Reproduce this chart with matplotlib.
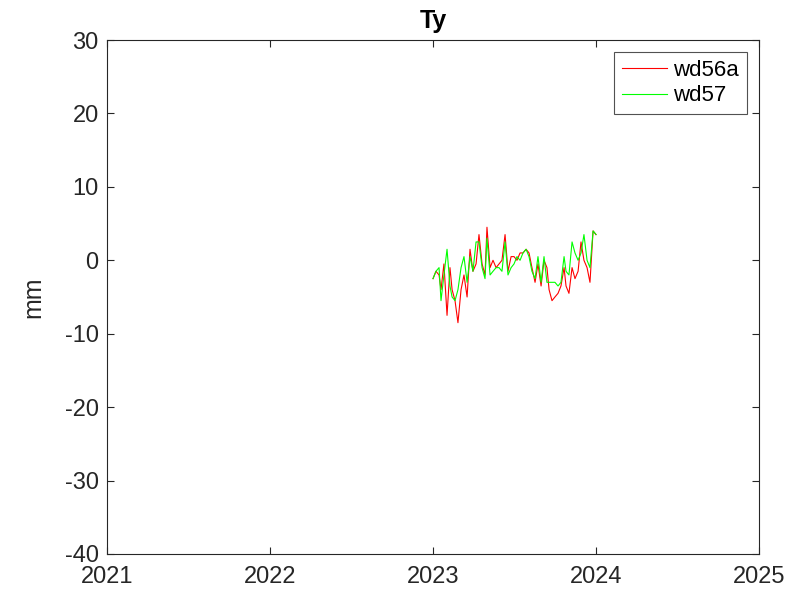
import matplotlib
matplotlib.use("Agg")
import matplotlib.pyplot as plt
import numpy as np

plt.rcParams['font.family'] = ['Liberation Sans', 'DejaVu Sans']

# decimal-year epochs
t = [2023.000, 2023.018, 2023.037, 2023.049, 2023.067, 2023.086, 2023.104, 2023.117,
     2023.135, 2023.153, 2023.172, 2023.190, 2023.209, 2023.227, 2023.245, 2023.264,
     2023.282, 2023.301, 2023.319, 2023.331, 2023.350, 2023.368, 2023.387, 2023.405,
     2023.423, 2023.442, 2023.460, 2023.479, 2023.497, 2023.515, 2023.534, 2023.552,
     2023.571, 2023.589, 2023.607, 2023.626, 2023.644, 2023.663, 2023.681, 2023.699,
     2023.712, 2023.730, 2023.748, 2023.767, 2023.785, 2023.804, 2023.816, 2023.834,
     2023.853, 2023.871, 2023.890, 2023.908, 2023.926, 2023.945, 2023.963, 2023.982]

wd56a = [-2.5, -1.5, -2.0, -4.0, -0.5, -7.5, -1.0, -4.0, -5.5, -8.5, -4.0, -2.0,
         -5.0, 1.5, -1.5, -0.5, 3.5, -0.5, -2.0, 4.5, -1.0, 0.0, -1.0, -0.5,
         0.0, 3.5, -1.5, 0.5, 0.5, 0.0, 1.0, 1.0, 1.5, 1.0, -1.0, -3.0,
         -0.5, -3.5, 0.0, -1.0, -4.0, -5.5, -5.0, -4.5, -3.5, -1.0, -3.5, -4.5,
         -1.0, -2.5, -1.5, 2.5, 0.0, -1.0, -3.0, 4.0]

wd57 = [-2.5, -1.5, -1.0, -5.5, -2.0, 1.5, -3.5, -5.0, -5.5, -4.0, -1.0, 0.5,
        -3.0, 0.5, -1.5, 2.5, 2.5, -1.0, -2.5, 3.0, -2.0, -1.5, -1.0, -1.0,
        -1.5, 2.5, -2.0, -1.0, -0.5, 0.5, 0.0, 1.0, 1.5, 0.5, -1.5, -2.5,
        0.5, -3.0, 0.5, -3.0, -3.0, -3.0, -3.0, -3.5, -3.0, 0.5, -1.5, -2.0,
        2.5, 1.0, 0.0, 1.0, 3.5, 0.0, -1.0, 4.0]

t_end = [2024.0]
wd56a_end = [3.5]
wd57_end = [3.5]

xticks = [2021, 2022, 2023, 2024, 2025]
yticks = [-40, -30, -20, -10, 0, 10, 20, 30]

fig = plt.figure(figsize=(8.09, 5.98), dpi=100)
ax = fig.add_axes([0.1323, 0.0736, 0.8059, 0.8595])

ax.plot(t + t_end, wd56a + wd56a_end, color='#ff0000', lw=0.8, label='wd56a')
ax.plot(t + t_end, wd57 + wd57_end, color='#00ff00', lw=0.8, label='wd57')

ax.set_xlim(2021, 2025)
ax.set_ylim(-40, 30)
ax.set_xticks(xticks)
ax.set_yticks(yticks)
ax.set_xticklabels([str(v) for v in xticks])
ax.set_yticklabels([str(v) for v in yticks])
ax.tick_params(direction='in', length=5, labelsize=17, colors=(0.15, 0.15, 0.15),
               top=True, right=True)
ax.tick_params(axis='x', pad=9)
ax.tick_params(axis='y', pad=6)
for s in ax.spines.values():
    s.set_color((0.15, 0.15, 0.15))
    s.set_linewidth(0.8)
ax.set_ylabel('mm', fontsize=18, color=(0.15, 0.15, 0.15), labelpad=14)
ax.set_title('Ty', fontsize=18, fontweight='bold', pad=9)

leg = ax.legend(loc='upper right', fontsize=16, frameon=True, fancybox=False,
                edgecolor=(0.15, 0.15, 0.15), handlelength=2.0, borderpad=0.35,
                labelspacing=0.2, handletextpad=0.3, borderaxespad=0.55)
leg.get_frame().set_linewidth(0.8)

fig.savefig('out.png', dpi=100)
